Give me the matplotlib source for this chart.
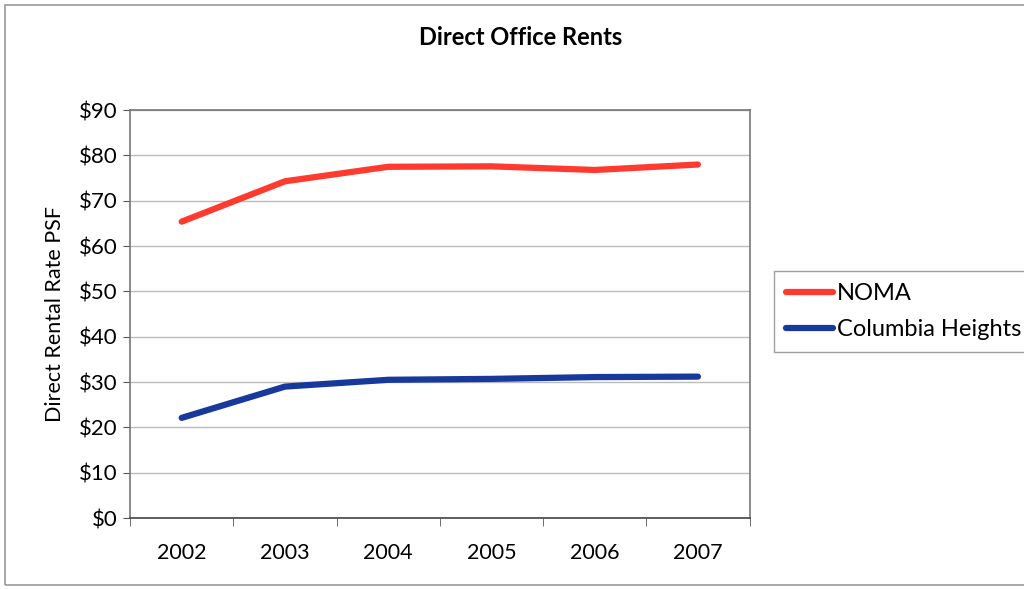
import matplotlib.pyplot as plt
from matplotlib.patches import Rectangle
import numpy as np

# data
years = ['2002', '2003', '2004', '2005', '2006', '2007']
noma = [65.4, 74.3, 77.5, 77.6, 76.8, 78.0]
columbia = [22.1, 29.0, 30.5, 30.7, 31.1, 31.2]

plt.rcParams['font.family'] = ['Lato', 'DejaVu Sans']

fig = plt.figure(figsize=(10.24, 5.89), dpi=100)
ax = fig.add_axes([0.127, 0.1205, 0.605, 0.6925])

x = np.arange(len(years))
ax.plot(x, noma, color='#ff3b30', lw=4.5, label='NOMA', solid_capstyle='round')
ax.plot(x, columbia, color='#17399c', lw=4.5, label='Columbia Heights', solid_capstyle='round')

ax.set_xlim(-0.5, len(years) - 0.5)
ax.set_ylim(0, 90)
ax.set_yticks(range(0, 91, 10))
ax.set_yticklabels([f'${v}' for v in range(0, 91, 10)], fontsize=16)
ax.set_xticks(x)
ax.set_xticklabels(years, fontsize=15.5)
ax.set_xticks(np.arange(-0.5, len(years), 1), minor=True)
ax.tick_params(axis='x', which='major', length=0, pad=18)
ax.tick_params(axis='x', which='minor', length=6, direction='out', color='#555555')
ax.tick_params(axis='y', length=5, direction='out', color='#555555', pad=4)

ax.grid(axis='y', color='#bbbbbb', lw=1)
ax.set_axisbelow(True)
for s in ax.spines.values():
    s.set_color('#777777')
    s.set_linewidth(1.2)
ax.spines['bottom'].set_color('#444444')

ax.set_ylabel('Direct Rental Rate PSF', fontsize=15.5, labelpad=10)
fig.text(0.508, 0.937, 'Direct Office Rents', ha='center', va='center',
         fontsize=17, fontweight='bold')

leg = ax.legend(loc='upper left', bbox_to_anchor=(1.04, 0.605), frameon=True,
                fontsize=17, handlelength=2.0, handletextpad=0.15,
                borderpad=0.5, labelspacing=0.65, fancybox=False, borderaxespad=0)
leg.get_frame().set_edgecolor('#888888')
leg.get_frame().set_linewidth(1.0)

# outer chart border
fig.patches.append(Rectangle((5 / 1024, 4 / 589), 1.2, 1 - 9 / 589,
                             transform=fig.transFigure, fill=False,
                             edgecolor='#999999', lw=1.2))

fig.savefig('out.png', dpi=100)
